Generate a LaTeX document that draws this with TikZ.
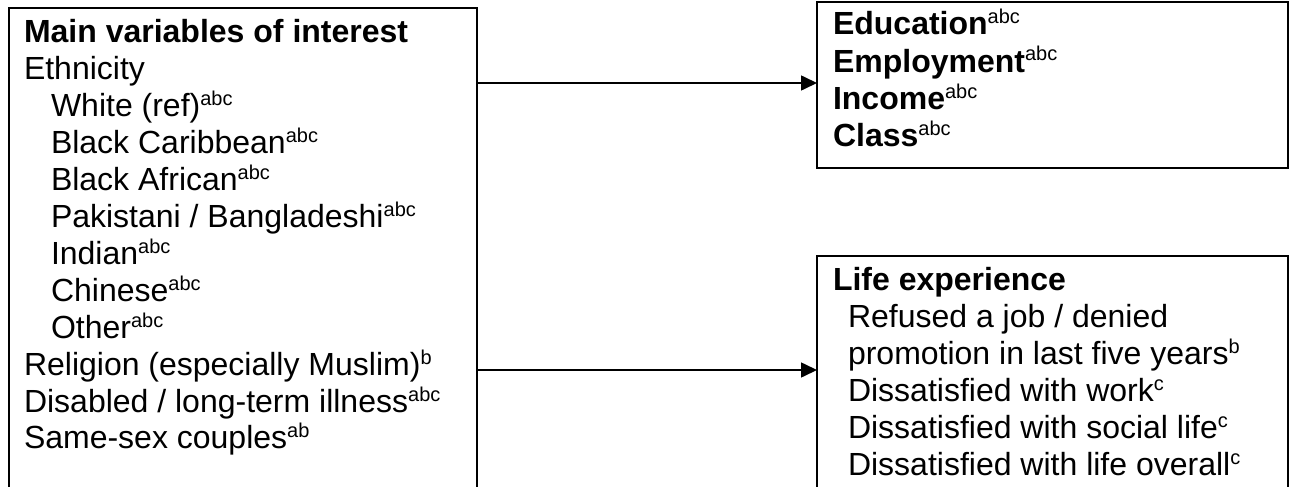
\documentclass[tikz,border=0pt]{standalone}
\usepackage{fontspec}
\setmainfont{Liberation Sans}
\usetikzlibrary{arrows.meta}
\newcommand\sps[1]{\raisebox{11pt}{\fontsize{20}{20}\selectfont #1}}
\tikzset{
  boxst/.style={draw, line width=2.5pt, anchor=north west, inner sep=0pt, outer sep=0pt},
  txt/.style={anchor=base west, inner sep=0pt, outer sep=0pt},
  arr/.style={-{Triangle[length=16pt,width=15pt]}, line width=1.6pt},
}
\begin{document}
\begin{tikzpicture}[x=1pt, y=-1pt, font=\fontsize{32}{37}\selectfont]
\useasboundingbox (0,0) rectangle (1290,487);
\clip (0,0) rectangle (1290,487);
% boxes
\node[boxst, minimum width=468pt, minimum height=540pt] (L) at (9,8) {};
\node[boxst, minimum width=471pt, minimum height=166pt] (T) at (817,2) {};
\node[boxst, minimum width=471pt, minimum height=300pt] (B) at (817,256) {};
% left texts
\node[txt] (l0) at (24,43) {\textbf{Main variables of interest}};
\node[txt] (l1) at (24,79.9) {Ethnicity};
\node[txt] (l2) at (51,116.8) {White (ref)\sps{abc}};
\node[txt] (l3) at (51,153.7) {Black Caribbean\sps{abc}};
\node[txt] (l4) at (51,190.6) {Black African\sps{abc}};
\node[txt] (l5) at (51,227.5) {Pakistani / Bangladeshi\sps{abc}};
\node[txt] (l6) at (51,264.4) {Indian\sps{abc}};
\node[txt] (l7) at (51,301.3) {Chinese\sps{abc}};
\node[txt] (l8) at (51,338.2) {Other\sps{abc}};
\node[txt] (l9) at (24,375.1) {Religion (especially Muslim)\sps{b}};
\node[txt] (l10) at (24,412) {Disabled / long-term illness\sps{abc}};
\node[txt] (l11) at (24,448.9) {Same-sex couples\sps{ab}};
% top right texts
\node[txt] (t0) at (833,35) {\textbf{Education}\sps{abc}};
\node[txt] (t1) at (833,72) {\textbf{Employment}\sps{abc}};
\node[txt] (t2) at (833,109) {\textbf{Income}\sps{abc}};
\node[txt] (t3) at (833,146) {\textbf{Class}\sps{abc}};
% bottom right texts
\node[txt] (b0) at (833,290) {\textbf{Life experience}};
\node[txt] (b1) at (848,327) {Refused a job / denied};
\node[txt] (b2) at (848,364) {promotion in last five years\sps{b}};
\node[txt] (b3) at (848,401) {Dissatisfied with work\sps{c}};
\node[txt] (b4) at (848,438) {Dissatisfied with social life\sps{c}};
\node[txt] (b5) at (848,475) {Dissatisfied with life overall\sps{c}};
% arrows
\coordinate (a1) at (0,83);
\coordinate (a2) at (0,370);
\draw[arr] (L.east |- a1) -- (T.west |- a1);
\draw[arr] (L.east |- a2) -- (B.west |- a2);
\end{tikzpicture}
\end{document}
